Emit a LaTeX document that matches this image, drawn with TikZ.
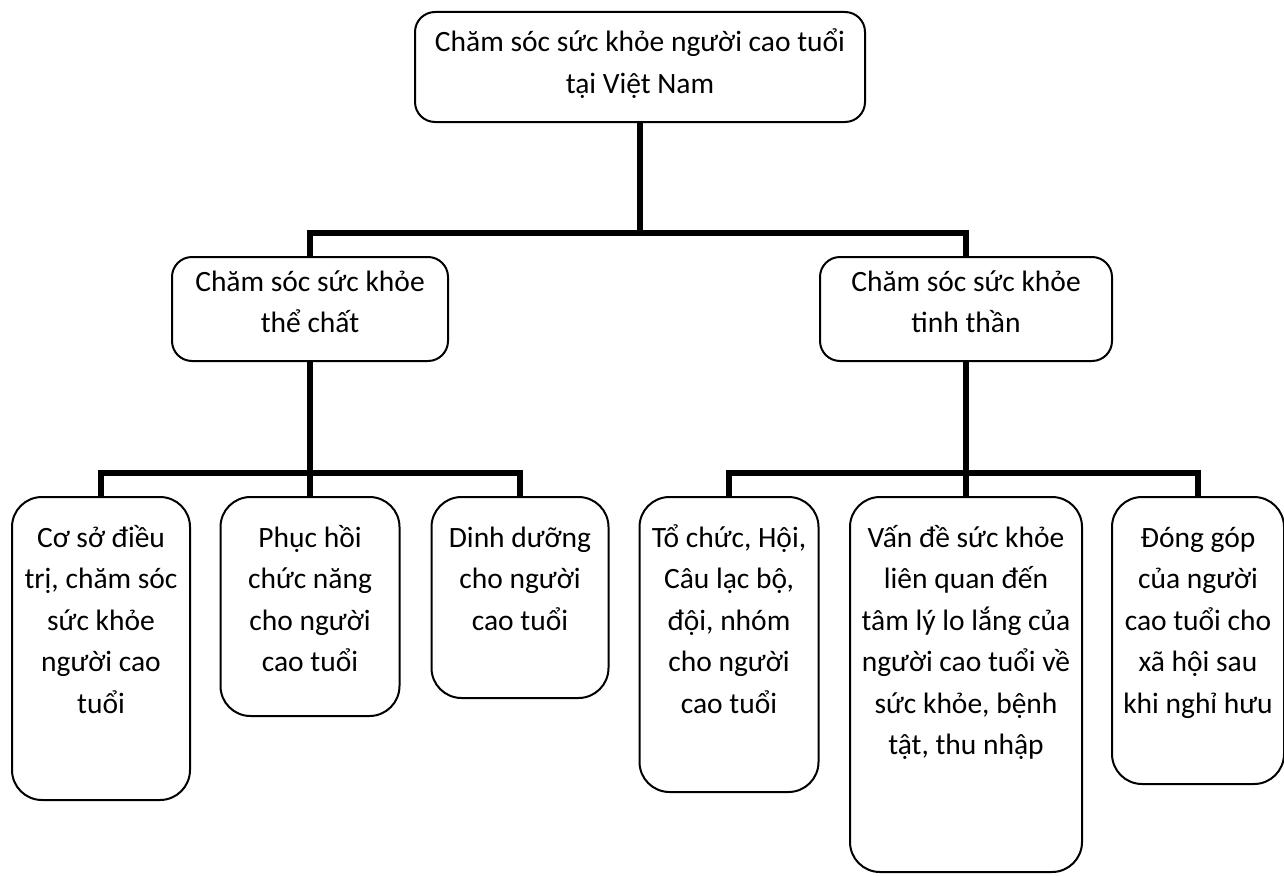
\documentclass[tikz,border=0pt]{standalone}
\usepackage{fontspec}
\setmainfont{Carlito}
\newcommand{\lblfont}{\fontsize{29.5}{41.5}\selectfont}
\newcommand{\ml}[1]{\begin{tabular}[t]{@{}c@{}}#1\end{tabular}}
\begin{document}
\begin{tikzpicture}[x=1pt,y=-1pt,
  box/.style={draw, line width=2pt, inner sep=0pt, rounded corners=#1},
  box/.default=20pt,
  conn/.style={line width=6pt, line join=miter},
  lbl/.style={font=\lblfont, anchor=base, inner sep=0pt}]
\useasboundingbox[fill=white] (0,0) rectangle (1284,875);
% boxes
\node[box=20pt, minimum width=450pt, minimum height=110pt] (top) at (640,67) {};
\node[box=20pt, minimum width=276pt, minimum height=104pt] (mL) at (310,309) {};
\node[box=20pt, minimum width=292pt, minimum height=104pt] (mR) at (966,309) {};
\node[box=30pt, minimum width=178pt, minimum height=303pt] (b1) at (101,648.5) {};
\node[box=30pt, minimum width=179pt, minimum height=219pt] (b2) at (310,606.5) {};
\node[box=30pt, minimum width=177pt, minimum height=201pt] (b3) at (520,597.5) {};
\node[box=30pt, minimum width=179pt, minimum height=295pt] (b4) at (729,644.5) {};
\node[box=30pt, minimum width=232pt, minimum height=375pt] (b5) at (966,684.5) {};
\node[box=30pt, minimum width=172pt, minimum height=287pt] (b6) at (1198,640.5) {};
% texts
\node[lbl] (t0) at (640,52) {\ml{Chăm sóc sức khỏe người cao tuổi\\tại Việt Nam}};
\node[lbl] (tL) at (310,291) {\ml{Chăm sóc sức khỏe\\thể chất}};
\node[lbl] (tR) at (966,291) {\ml{Chăm sóc sức khỏe\\tinh thần}};
\node[lbl] (t1) at (101,547) {\ml{Cơ sở điều\\trị, chăm sóc\\sức khỏe\\người cao\\tuổi}};
\node[lbl] (t2) at (310,547) {\ml{Phục hồi\\chức năng\\cho người\\cao tuổi}};
\node[lbl] (t3) at (520,547) {\ml{Dinh dưỡng\\cho người\\cao tuổi}};
\node[lbl] (t4) at (729,547) {\ml{Tổ chức, Hội,\\Câu lạc bộ,\\đội, nhóm\\cho người\\cao tuổi}};
\node[lbl] (t5) at (966,547) {\ml{Vấn đề sức khỏe\\liên quan đến\\tâm lý lo lắng của\\người cao tuổi về\\sức khỏe, bệnh\\tật, thu nhập}};
\node[lbl] (t6) at (1198,547) {\ml{Đóng góp\\của người\\cao tuổi cho\\xã hội sau\\khi nghỉ hưu}};
% connectors
\coordinate (j0) at (640,233);
\coordinate (jL) at (310,473);
\coordinate (jR) at (966,473);
\draw[conn] (top.south) -- (j0);
\draw[conn] (mL.north) |- (j0) -| (mR.north);
\draw[conn] (mL.south) -- (b2.north);
\draw[conn] (b1.north) |- (jL) -| (b3.north);
\draw[conn] (mR.south) -- (b5.north);
\draw[conn] (b4.north) |- (jR) -| (b6.north);
\end{tikzpicture}
\end{document}
